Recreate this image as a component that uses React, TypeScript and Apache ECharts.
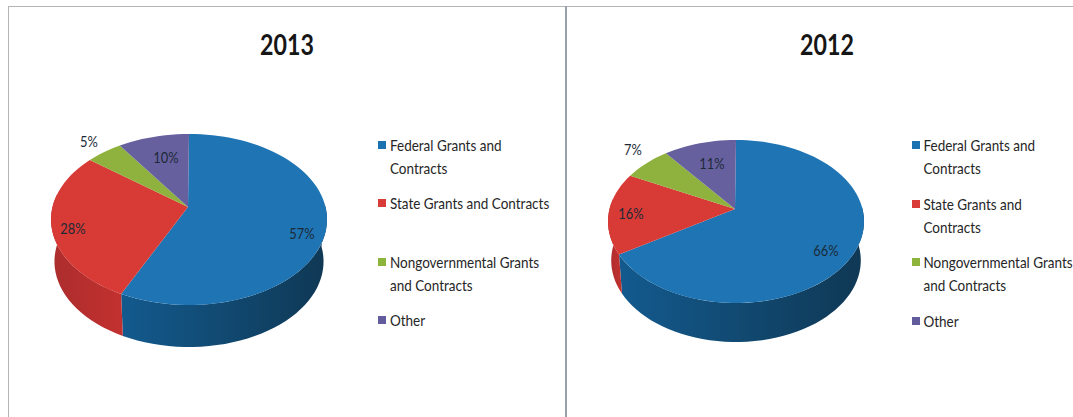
import React, { useEffect, useRef } from "react";
import * as echarts from "echarts";

const categories = [
  "Federal Grants and Contracts",
  "State Grants and Contracts",
  "Nongovernmental Grants and Contracts",
  "Other",
];
const values2013 = [57, 28, 5, 10];
const values2012 = [66, 16, 7, 11];
const legendLines2013 = [
  ["Federal Grants and", "Contracts"],
  ["State Grants and Contracts"],
  ["Nongovernmental Grants", "and Contracts"],
  ["Other"],
];
const legendLines2012 = [
  ["Federal Grants and", "Contracts"],
  ["State Grants and", "Contracts"],
  ["Nongovernmental Grants", "and Contracts"],
  ["Other"],
];

const topColors = ["#1f74b4", "#d83a36", "#8fb23f", "#67609f"];
const wallLeft = ["#135a8e", "#c2312f", "#6f8c30", "#4f4a80"];
const wallRight = ["#0f3854", "#ac2d2d", "#6f8c30", "#4f4a80"];
const legendColors = ["#1a72b0", "#d93b38", "#8db53c", "#635c9c"];

const FONT = "Lato, sans-serif";
const WARP = (10 * Math.PI) / 180;

const pieLayouts = [
  {
    title: "2013", titleX: 287, values: values2013, legend: legendLines2013,
    cx: 189, cy: 219.5, rx: 138, ry: 85.5, depth: 42, apexX: 188, apexY: 207,
    labelAt: [[302, 233], [73, 228], [89, 141], [166, 157]],
    swatchX: 378, textX: 390, legendY: [[145, 168], [203], [262, 285], [320]],
  },
  {
    title: "2012", titleX: 827, values: values2012, legend: legendLines2012,
    cx: 736, cy: 221.5, rx: 128, ry: 81.5, depth: 39, apexX: 735, apexY: 209,
    labelAt: [[826, 250], [631, 213], [633, 149], [712, 163]],
    swatchX: 912, textX: 923.5, legendY: [[145, 168], [204, 227], [262, 285], [321]],
  },
];

function angleOf(values: number[], idx: number) {
  const total = values.reduce((a, b) => a + b, 0);
  const sum = values.slice(0, idx).reduce((a, b) => a + b, 0);
  return (sum / total) * Math.PI * 2;
}
const warp = (t: number) => t - WARP * Math.sin(t);

function rim(p: any, t: number, scale = 1, dy = 0): number[] {
  const w = warp(t);
  return [p.cx + p.rx * scale * Math.sin(w), p.cy + dy - p.ry * Math.cos(w)];
}

function arc(p: any, a: number, b: number, scale = 1, dy = 0) {
  const n = Math.max(2, Math.ceil(((b - a) / (Math.PI * 2)) * 120));
  const pts: number[][] = [];
  for (let i = 0; i <= n; i++) pts.push(rim(p, a + ((b - a) * i) / n, scale, dy));
  return pts;
}

function wallSeries(p: any) {
  return {
    type: "custom",
    coordinateSystem: "none",
    silent: true,
    data: p.values.map((v: number) => [v]),
    renderItem: (params: any) => {
      const i = params.dataIndex;
      const a = angleOf(p.values, i);
      const b = angleOf(p.values, i + 1);
      const frontA = Math.max(a, Math.PI / 2);
      const frontB = Math.min(b, (Math.PI * 3) / 2 + 0.12);
      if (frontB <= frontA) return { type: "group", children: [] };
      const upper = arc(p, frontA, frontB);
      const lower = arc(p, frontA, frontB, 0.975, p.depth).reverse();
      return {
        type: "polygon",
        shape: { points: [...upper, ...lower] },
        style: {
          fill: new echarts.graphic.LinearGradient(0, 0, 1, 0, [
            { offset: 0, color: i === 0 ? wallLeft[i] : wallRight[i] },
            { offset: 1, color: i === 0 ? wallRight[i] : wallLeft[i] },
          ]),
        },
      };
    },
  };
}

function topSeries(p: any) {
  return {
    type: "custom",
    coordinateSystem: "none",
    silent: true,
    data: p.values.map((v: number) => [v]),
    renderItem: (params: any) => {
      const i = params.dataIndex;
      const a = angleOf(p.values, i);
      const b = angleOf(p.values, i + 1);
      return {
        type: "polygon",
        shape: { points: [[p.apexX, p.apexY], ...arc(p, a, b)] },
        style: { fill: topColors[i] },
      };
    },
  };
}

function labelSeries(p: any) {
  return {
    type: "custom",
    coordinateSystem: "none",
    silent: true,
    z: 5,
    data: p.values.map((v: number) => [v]),
    renderItem: (params: any, api: any) => {
      const i = params.dataIndex;
      const [x, y] = p.labelAt[i];
      return {
        type: "text",
        x,
        y,
        scaleX: 0.86,
        style: {
          text: `${api.value(0)}%`,
          font: `15px ${FONT}`,
          fill: "#1c2a36",
          align: "center",
          verticalAlign: "middle",
        },
      };
    },
  };
}

function legendGraphics(p: any) {
  const out: any[] = [];
  p.legend.forEach((lines: string[], i: number) => {
    out.push({
      type: "rect",
      shape: { x: p.swatchX, y: p.legendY[i][0] - 4, width: 8, height: 8 },
      style: { fill: legendColors[i] },
    });
    lines.forEach((line, j) => {
      out.push({
        type: "text",
        x: p.textX,
        y: p.legendY[i][j],
        scaleX: 0.9,
        style: {
          text: line,
          font: `15px ${FONT}`,
          fill: "#262626",
          align: "left",
          verticalAlign: "middle",
        },
      });
    });
  });
  return out;
}

function titleGraphic(p: any) {
  return {
    type: "text",
    x: p.titleX,
    y: 44,
    scaleX: 0.8,
    style: {
      text: p.title,
      font: `bold 29px ${FONT}`,
      fill: "#161616",
      align: "center",
      verticalAlign: "middle",
    },
  };
}

export default function App() {
  const ref = useRef<HTMLDivElement>(null);
  useEffect(() => {
    document.body.style.margin = "0";
    const chart = echarts.init(ref.current!, undefined, { renderer: "svg" });
    const frame = { stroke: "#b4b4b4", lineWidth: 1 };
    chart.setOption({
      animation: false,
      backgroundColor: "#ffffff",
      series: pieLayouts.flatMap((p) => [wallSeries(p), topSeries(p), labelSeries(p)]),
      graphic: [
        { type: "line", shape: { x1: 8, y1: 6.5, x2: 1073, y2: 6.5 }, style: frame },
        { type: "line", shape: { x1: 8.5, y1: 6, x2: 8.5, y2: 417 }, style: frame },
        { type: "line", shape: { x1: 566, y1: 6, x2: 566, y2: 417 }, style: { stroke: "#98a0ab", lineWidth: 2 } },
        ...pieLayouts.map(titleGraphic),
        ...pieLayouts.flatMap(legendGraphics),
      ],
    });
    return () => chart.dispose();
  }, []);
  return <div ref={ref} style={{ width: 1073, height: 417 }} aria-label={categories.join(", ")} />;
}
